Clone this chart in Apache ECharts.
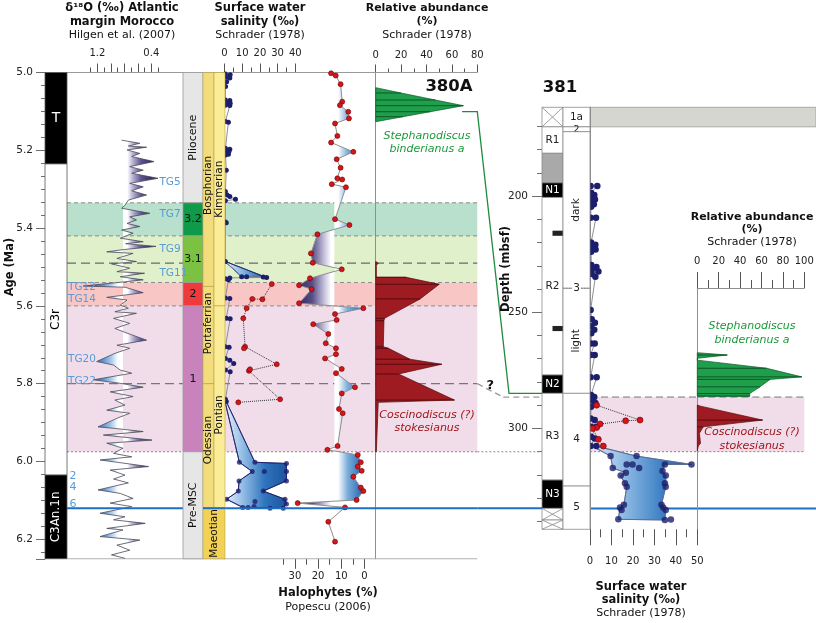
<!DOCTYPE html>
<html>
<head>
<meta charset="utf-8">
<title>380A / 381</title>
<script src="https://cdn.jsdelivr.net/npm/echarts@6.0.0/dist/echarts.min.js"></script>
<style>
html,body{margin:0;padding:0;background:#ffffff;}
#chart{width:816px;height:623px;}
</style>
</head>
<body>
<div id="chart"></div>
<script>
/* ============================ DATA ============================ */
// ---------- Site 380A (age, Ma) ----------
const ageExtent = [5.0, 6.25];
const ageTickLabels = [5.0, 5.2, 5.4, 5.6, 5.8, 6.0, 6.2];
const chronZones = [['T', 5.0, 5.235, 'N'], ['C3r', 5.235, 6.035, 'R'], ['C3An.1n', 6.035, 6.25, 'N']];
const mscStages = [['Pliocene', 5.0, 5.335], ['3.2', 5.335, 5.42], ['3.1', 5.42, 5.54], ['2', 5.54, 5.60], ['1', 5.60, 5.975], ['Pre-MSC', 5.975, 6.25]];
const paratethysA = [['Bosphorian', 5.0, 5.55, 5.29], ['Portaferrian', 5.55, 5.80, 5.645], ['Odessian', 5.80, 6.12, 5.945]];
const paratethysB = [['Kimmerian', 5.0, 5.60, 5.30], ['Pontian', 5.60, 6.12, 5.88]];
const paratethysBase = ['Maeotian', 6.12, 6.25];
const bandAges380 = [[5.335, 5.42], [5.42, 5.54], [5.54, 5.60], [5.60, 5.975]];
const levelAges380 = [5.335, 5.42, 5.49, 5.54, 5.60, 5.80, 5.975];
const blueLevelAge = 6.12;

// d18O (permil) – Hilgen et al. 2007  [age, value]
const d18TicksMajor = [1.2, 1.0, 0.8, 0.6, 0.4];
const d18TicksMinor = [1.3, 1.1, 0.9, 0.7, 0.5, 0.3];
const d18TickLabels = [1.2, 0.4];
const d18O = [
[5.174,0.84],[5.182,0.57],[5.189,0.74],[5.192,0.47],[5.199,0.76],[5.208,0.57],[5.216,0.69],[5.229,0.36],[5.242,0.72],[5.251,0.52],
[5.259,0.69],[5.272,0.30],[5.285,0.72],[5.294,0.52],[5.304,0.69],[5.315,0.47],[5.328,0.74],[5.341,0.79],[5.349,0.84],[5.362,0.42],
[5.371,0.72],[5.379,0.62],[5.388,0.76],[5.396,0.57],[5.405,0.84],[5.413,0.67],[5.426,0.86],[5.435,0.52],[5.440,0.78],[5.447,0.33],
[5.455,0.80],[5.461,1.06],[5.465,0.67],[5.478,0.91],[5.486,0.62],[5.492,0.99],[5.503,0.72],[5.512,0.91],[5.516,0.50],[5.525,0.86],
[5.533,0.52],[5.538,0.79],[5.549,1.41],[5.552,0.79],[5.566,0.52],[5.578,1.06],[5.585,0.76],[5.598,0.86],[5.606,0.74],[5.615,0.94],
[5.619,0.62],[5.632,0.96],[5.645,0.72],[5.658,0.94],[5.670,0.76],[5.688,0.47],[5.701,0.91],[5.709,0.72],[5.722,0.94],[5.743,1.21],
[5.752,0.96],[5.765,0.86],[5.773,0.69],[5.790,1.26],[5.799,0.86],[5.809,0.52],[5.821,1.01],[5.833,0.67],[5.842,0.94],[5.855,0.79],
[5.868,1.06],[5.876,0.72],[5.889,0.91],[5.911,1.19],[5.915,0.94],[5.923,0.52],[5.932,1.11],[5.945,0.39],[5.953,1.06],[5.966,0.82],
[5.979,0.96],[5.988,0.69],[5.996,1.16],[6.013,0.44],[6.022,1.01],[6.035,0.79],[6.045,0.96],[6.055,0.74],[6.063,0.94],[6.073,1.19],
[6.082,0.86],[6.095,0.67],[6.107,1.01],[6.116,0.69],[6.133,1.16],[6.142,0.79],[6.150,0.96],[6.159,0.49],[6.172,1.06],[6.176,0.82],
[6.193,1.16],[6.202,0.57],[6.215,0.91],[6.228,0.72],[6.240,0.99],[6.249,0.79]
];
const tgRight = [['TG5', 5.281], ['TG7', 5.364], ['TG9', 5.454], ['TG11', 5.516]];
const tgLeft = [['TG12', 5.553], ['TG14', 5.583], ['TG20', 5.737], ['TG22', 5.795]];
const tgNumbers = [['2', 6.037], ['4', 6.067], ['6', 6.110]];

// Surface-water salinity 380A (permil)  [age, value]
const salTicksMajor = [0, 10, 20, 30, 40];
const salTicksMinor = [5, 15, 25, 35];
const salTickLabels = [0, 10, 20, 30, 40];
const sal380Navy = [
[5.004,0.5],[5.006,3.2],[5.012,1.0],[5.014,3.0],[5.024,1.2],[5.036,0.6],[5.071,0.5],[5.072,3.0],[5.078,1.0],[5.079,3.2],
[5.084,0.5],[5.085,3.0],[5.126,0.5],[5.128,2.2],[5.195,0.5],[5.197,3.0],[5.199,1.2],[5.203,2.5],[5.206,0.5],[5.210,2.2],
[5.212,0.6],[5.251,1.0],[5.306,0.5],[5.315,1.5],[5.319,3.0],[5.326,6.2],[5.330,0.5],[5.384,0.5],[5.386,1.0],[5.486,0.5],
[5.525,9.7],[5.525,12.5],[5.526,21.9],[5.527,23.8],[5.528,3.0],[5.530,0.5],[5.533,2.2],[5.580,0.5],[5.581,3.0],[5.632,1.0],
[5.633,3.2],[5.705,0.5],[5.706,2.6],[5.735,0.5],[5.740,3.0],[5.748,5.2],[5.765,0.5],[5.769,3.2],[5.840,0.5],[5.846,1.0]
];
const sal380PreMSC = [
[6.002,8.4],[6.002,17.2],[6.005,35.0],[6.026,15.7],[6.026,22.5],[6.026,35.0],[6.050,8.2],[6.050,35.0],[6.076,7.8],[6.076,21.9],
[6.097,1.2],[6.097,34.2],[6.103,17.2],[6.109,35.0],[6.118,10.3],[6.118,13.3],[6.116,16.7],[6.120,25.7],[6.120,33.2]
];
const sal380WedgeMin = [[5.486,0.3],[5.525,9.7]];
const sal380WedgeMax = [[5.486,0.6],[5.527,23.8]];
const sal380Min = [[5.846,0.3],[6.002,8.4],[6.026,15.7],[6.050,8.2],[6.076,7.8],[6.097,1.2],[6.118,10.3]];
const sal380Max = [[5.846,1.0],[6.002,17.2],[6.005,35.0],[6.026,35.0],[6.050,35.0],[6.076,21.9],[6.097,34.2],[6.109,35.0],[6.120,33.2]];
const sal380Red = [[5.544,26.7],[5.583,21.4],[5.582,15.7],[5.606,12.5],[5.632,10.6],[5.705,11.6],[5.709,11.0],[5.750,29.5],[5.767,13.8],[5.763,14.4],[5.840,31.4],[5.848,7.8]];

// Halophytes (%) – Popescu 2006  [age, value]
const haloTicksMajor = [0, 10, 20, 30];
const haloTicksMinor = [5, 15, 25, 35];
const haloTickLabels = [0, 10, 20, 30];
const halo380 = [
[5.002,14.4],[5.008,12.4],[5.030,10.3],[5.075,9.6],[5.084,10.6],[5.101,7.0],[5.118,6.7],[5.131,12.7],[5.163,11.7],[5.180,14.4],
[5.204,4.8],[5.223,12.0],[5.245,10.3],[5.272,11.7],[5.275,9.6],[5.287,14.1],[5.295,8.0],[5.377,12.7],[5.392,6.5],[5.416,20.3],
[5.465,23.1],[5.489,22.3],[5.506,9.8],[5.529,23.5],[5.547,28.2],[5.557,22.8],[5.593,28.2],[5.606,0.5],[5.621,12.7],[5.636,12.0],
[5.647,22.1],[5.672,15.6],[5.696,16.7],[5.709,12.3],[5.724,12.3],[5.735,17.0],[5.762,9.8],[5.773,12.3],[5.809,4.1],[5.825,9.8],
[5.865,11.0],[5.876,9.4],[5.960,11.6],[5.970,16.0],[5.983,2.9],[6.002,1.6],[6.013,2.9],[6.024,1.2],[6.039,4.8],[6.067,1.6],
[6.076,0.5],[6.099,3.4],[6.107,28.8],[6.118,8.4],[6.155,15.6],[6.206,12.7]
];

// Relative abundance 380A (%)  [age, value]
const ab380TicksMajor = [0, 20, 40, 60, 80];
const ab380TicksMinor = [10, 30, 50, 70];
const ab380TickLabels = [0, 20, 40, 60, 80];
const stephA380 = [[5.039,0],[5.0527,20],[5.0707,47],[5.0853,69],[5.1008,43],[5.1136,21.5],[5.1265,0]];
const coscA380 = [[5.486,0],[5.490,2],[5.496,0.5],[5.5265,0.5],[5.5265,24],[5.5445,50],[5.582,35],[5.632,7],[5.638,6.5],[5.705,6],
[5.709,10],[5.737,27],[5.750,52],[5.775,18],[5.842,62],[5.848,2],[5.975,0.5],[5.975,0]];

// ---------- Site 381 (depth, mbsf) ----------
const depthExtent = [161.8, 343.4];
const depthTicksMajor = [200, 250, 300];
const depthTicksMinor = [170, 180, 190, 210, 220, 230, 240, 260, 270, 280, 290, 310, 320, 330, 340];
const depthTickLabels = [200, 250, 300];
const polarity381 = [['', 161.8, 170.2, 'X'], ['R1', 170.2, 181.6, 'R'], ['', 181.6, 194.3, 'gap'], ['N1', 194.3, 200.6, 'N'],
  ['R2', 200.6, 277.0, 'R'], ['N2', 277.0, 284.9, 'N'], ['R3', 284.9, 322.2, 'R'], ['N3', 322.2, 334.4, 'N'],
  ['', 334.4, 339.4, 'X'], ['', 339.4, 343.4, 'X']];
const polarityMarks381 = [216.0, 257.0];
const units381 = [['1a', 161.8, 170.2], ['2', 170.2, 172.3], ['dark', 172.3, 239.7], ['light', 239.7, 284.9], ['4', 284.9, 324.8], ['5', 324.8, 343.4]];
const unitBoundary381 = ['3', 239.7];
const band381 = [286.5, 310.0];
const blueLevelDepth = 334.4;

const sal381TicksMajor = [0, 10, 20, 30, 40, 50];
const sal381TicksMinor = [5, 15, 25, 35, 45];
const sal381TickLabels = [0, 10, 20, 30, 40, 50];
const sal381Navy = [
[195.7,0.3],[195.7,3.4],[198.6,0.5],[199.5,2.0],[200.5,0.5],[201.5,2.3],[202.5,0.8],[203.5,1.8],[204.6,0.5],[209.3,0.3],
[209.3,2.8],[220.0,0.5],[221.0,2.5],[222.0,0.8],[223.0,2.6],[224.0,0.5],[229.7,0.6],[230.5,3.0],[231.5,1.0],[232.5,3.9],
[233.5,0.8],[234.7,2.5],[249.0,0.3],[253.0,0.8],[254.5,2.3],[256.0,0.5],[257.5,2.0],[259.0,0.6],[263.4,0.5],[263.4,2.2],
[268.4,0.3],[268.4,2.2],[278.0,0.3],[278.0,3.1],[285.6,0.5],[286.5,2.0],[288.0,0.8],[289.0,2.5],[290.7,0.5],[295.7,0.3],
[296.4,2.2],[299.3,0.5],[299.3,3.0],[303.6,0.5],[304.3,2.2],[307.6,0.3],[307.6,3.0]
];
const sal381Lower = [
[311.9,9.6],[311.9,21.7],[315.5,17.1],[315.5,19.8],[315.5,34.9],[315.5,47.3],[317.0,10.6],[317.0,22.9],[318.3,33.8],[319.1,16.7],
[320.3,14.3],[320.3,35.3],[323.6,16.3],[323.6,34.9],[325.1,17.1],[325.1,35.3],[332.8,15.8],[332.8,33.3],[334.0,14.0],[335.1,14.7],
[334.0,34.1],[335.1,35.3],[339.1,13.2],[339.4,34.9],[339.2,37.7]
];
const sal381Min = [[307.6,1.0],[311.9,9.6],[317.0,10.6],[319.1,16.7],[320.3,14.3],[325.1,17.1],[332.8,15.8],[334.0,14.0],[339.1,13.2]];
const sal381Max = [[307.6,3.0],[311.9,21.7],[315.5,47.3],[315.5,34.9],[318.3,33.8],[320.3,35.3],[325.1,35.3],[332.8,33.3],[335.1,35.3],[339.4,34.9]];
const sal381Red = [[290.0,3.1],[296.4,23.3],[296.7,16.6],[298.1,4.7],[299.6,3.1],[300.0,1.2],[304.7,3.9],[307.6,6.2]];

const ab381TicksMajor = [0, 20, 40, 60, 80, 100];
const ab381TicksMinor = [10, 30, 50, 70, 90];
const ab381TickLabels = [0, 20, 40, 60, 80, 100];
const stephB381 = [[267.4,0],[268.4,28],[269.8,0],[270.6,0],[274.1,64.8],[277.8,97.6],[278.9,68],[282.1,58.6],[285.0,49],[286.1,49],[286.1,0]];
const coscB381 = [[289.9,0],[290.4,3],[296.4,61],[299.3,5.6],[302.1,2],[306.4,3],[307.5,1],[309.6,0]];

// correlation tie points (380A age <-> 381 depth)
const tieSteph = {age: 5.1008, value: 68, depth: 284.9};
const tieMSC = {age: 5.80, depth: 286.5};
const tieBase = {age: 5.975, depth: 310.0};

/* ============================ STYLE ============================ */
const FF = "'DejaVu Sans', Verdana, sans-serif";
const f = (size, weight, style) => (style || 'normal') + ' ' + (weight || 'normal') + ' ' + size + 'px ' + FF;
const C = {
  navy: '#1c1f6b', red: '#d4161b', redEdge: '#6b0000', gline: '#8c8c8c', axis: '#6e6e6e', tg: '#5b9bd5', blue: '#1f6fc6',
  band: ['#b8e0cd', '#dff0cb', '#f9c6c6', '#f0dde9'],
  stage: {'Pliocene': '#e6e6e6', '3.2': '#0e9a48', '3.1': '#7cc242', '2': '#ee3a3a', '1': '#c883bc', 'Pre-MSC': '#e6e6e6'},
  paraA: '#f2dc7c', paraB: '#fbec98', paraBase: '#f1d257', paraEdge: '#b9a548',
  green: '#1f9e4b', greenDark: '#0b5a27', greenText: '#1a9a3a', wine: '#9e1b22', wineDark: '#5a0a0e', wineText: '#a0161c',
  pol: {N: '#000000', R: '#ffffff', gap: '#a9a9a9', X: '#ffffff'}
};
const levelStyles = [
  {stroke: '#8a8a8a', lineWidth: 1, lineDash: [4, 3]}, {stroke: '#8a8a8a', lineWidth: 1, lineDash: [4, 3]},
  {stroke: '#6a6a6a', lineWidth: 1.2, lineDash: [9, 5]}, {stroke: '#8a8a8a', lineWidth: 1, lineDash: [4, 3]},
  {stroke: '#8a8a8a', lineWidth: 1, lineDash: [4, 3]}, {stroke: '#777', lineWidth: 1.2, lineDash: [9, 5]},
  {stroke: '#888', lineWidth: 1, lineDash: [2, 2]}
];
const d18Center = 0.82, haloCenter = 13;

/* ============================ BUILD ============================ */
const chart = echarts.init(document.getElementById('chart'), null, {width: 816, height: 623, renderer: 'canvas'});
const grids = [], xAxes = [], yAxes = [], series = [];
const G = {}, X = {}, Y = {}, S = {};
function addGrid(n, left, top, width, height) { grids.push({left, top, width, height, containLabel: false, outerBoundsMode: 'none'}); G[n] = grids.length - 1; }
function addAxis(list, reg, n, o) {
  list.push(Object.assign({type: 'value', splitLine: {show: false}, axisLine: {show: false}, axisTick: {show: false}, axisLabel: {show: false}, axisPointer: {show: false}}, o));
  reg[n] = list.length - 1;
}
const tick = (vals, len, color) => ({show: true, customValues: vals, length: len, lineStyle: {color: color || '#555', width: 1}});
const tlab = (vals, margin) => ({show: true, customValues: vals, fontSize: 10, fontFamily: FF, color: '#222', margin});
const line = (color, w) => ({show: true, lineStyle: {color, width: w || 1}});

// --- 380A grids (age axis)
const AT = 72.5, AH = 486.25;
addGrid('chron', 45, AT, 22, AH);
addGrid('d18', 67, AT, 116, AH);
addGrid('stage', 183, AT, 20, AH);
addGrid('para', 203, AT, 22, AH);
addGrid('sal', 224.5, AT, 151.2, AH);
addGrid('ab', 375.7, AT, 101.6, AH);
addGrid('bg', 67, AT, 410.3, AH);
// --- 381 grids (depth axis)
const DT = 107.3, DH = 422;
addGrid('c1', 542, DT, 21, DH);
addGrid('c2', 563, DT, 27, DH);
addGrid('s381', 590, DT, 107.3, DH);
addGrid('a381', 697.3, 288, 107, 241.3);
addGrid('bg381', 590, DT, 226, DH);

const ageY = (n, g, extra) => addAxis(yAxes, Y, n, Object.assign({gridIndex: G[g], inverse: true, min: ageExtent[0], max: ageExtent[1]}, extra || {}));
const depY = (n, g, extra) => addAxis(yAxes, Y, n, Object.assign({gridIndex: G[g], inverse: true, min: depthExtent[0], max: depthExtent[1]}, extra || {}));

ageY('chron', 'chron', {position: 'left', interval: 0.2, axisLine: line(C.axis), axisTick: {show: true, length: 9, lineStyle: {color: C.axis}},
  minorTick: {show: true, splitNumber: 6, length: 4, lineStyle: {color: C.axis}},
  axisLabel: {show: true, customValues: ageTickLabels, fontSize: 10.5, fontFamily: FF, color: '#222', margin: 12, formatter: v => Number(v).toFixed(1)}});
ageY('d18', 'd18');
ageY('stage', 'stage');
ageY('para', 'para');
ageY('sal', 'sal', {position: 'left', axisLine: line('#555')});
ageY('ab', 'ab', {position: 'left', axisLine: line('#8f8f8f')});
ageY('abR', 'ab', {position: 'right', axisLine: line('#8f8f8f')});
ageY('bg', 'bg');
depY('c1', 'c1', {position: 'left', axisLine: line(C.axis), axisTick: tick(depthTicksMajor, 10, C.axis), axisLabel: Object.assign(tlab(depthTickLabels, 14), {fontSize: 10.5})});
depY('c1m', 'c1', {position: 'left', axisTick: tick(depthTicksMinor, 5, C.axis)});
depY('c2', 'c2');
depY('s381', 's381', {position: 'left', axisLine: line('#555')});
depY('s381R', 's381', {position: 'right', axisLine: line('#8f8f8f')});
addAxis(yAxes, Y, 'a381', {gridIndex: G.a381, inverse: true, min: depthExtent[0] + (288 - DT) / (DH / (depthExtent[1] - depthExtent[0])), max: depthExtent[1], position: 'right', axisLine: line('#8f8f8f')});
depY('bg381', 'bg381');

const unitX = (n, g, max) => addAxis(xAxes, X, n, {gridIndex: G[g], min: 0, max: max || 1});
unitX('chron', 'chron'); unitX('stage', 'stage'); unitX('para', 'para', 2); unitX('bg', 'bg');
unitX('c1', 'c1'); unitX('c2', 'c2'); unitX('bg381', 'bg381');
addAxis(xAxes, X, 'd18', {gridIndex: G.d18, position: 'top', inverse: true, min: -0.07, max: 1.65, axisTick: tick(d18TicksMajor, 9), axisLabel: tlab(d18TickLabels, 14)});
addAxis(xAxes, X, 'd18m', {gridIndex: G.d18, position: 'top', inverse: true, min: -0.07, max: 1.65, axisTick: tick(d18TicksMinor, 5)});
addAxis(xAxes, X, 'sal', {gridIndex: G.sal, position: 'top', min: 0, max: 85.4, axisTick: tick(salTicksMajor, 9), axisLabel: tlab(salTickLabels, 14)});
addAxis(xAxes, X, 'salm', {gridIndex: G.sal, position: 'top', min: 0, max: 85.4, axisTick: tick(salTicksMinor, 5)});
addAxis(xAxes, X, 'halo', {gridIndex: G.sal, position: 'bottom', inverse: true, min: -4.83, max: 60.34, axisTick: tick(haloTicksMajor, 10), axisLabel: tlab(haloTickLabels, 13)});
addAxis(xAxes, X, 'halom', {gridIndex: G.sal, position: 'bottom', inverse: true, min: -4.83, max: 60.34, axisTick: tick(haloTicksMinor, 6)});
addAxis(xAxes, X, 'ab', {gridIndex: G.ab, position: 'top', min: 0, max: 80, axisTick: tick(ab380TicksMajor, 8), axisLabel: tlab(ab380TickLabels, 12)});
addAxis(xAxes, X, 'abm', {gridIndex: G.ab, position: 'top', min: 0, max: 80, axisTick: tick(ab380TicksMinor, 4)});
addAxis(xAxes, X, 's381', {gridIndex: G.s381, position: 'bottom', min: 0, max: 50, axisTick: tick(sal381TicksMajor, 16), axisLabel: tlab(sal381TickLabels, 27)});
addAxis(xAxes, X, 's381m', {gridIndex: G.s381, position: 'bottom', min: 0, max: 50, axisTick: tick(sal381TicksMinor, 8)});
addAxis(xAxes, X, 'a381', {gridIndex: G.a381, position: 'top', min: 0, max: 100, axisLine: line('#8f8f8f'), axisTick: tick(ab381TicksMajor, 16), axisLabel: tlab(ab381TickLabels, 22)});
addAxis(xAxes, X, 'a381m', {gridIndex: G.a381, position: 'top', min: 0, max: 100, axisTick: tick(ab381TicksMinor, 8)});

// ---------- drawing helpers (all through api.coord) ----------
function rect(api, x0, y0, x1, y1, style) { const a = api.coord([x0, y0]), b = api.coord([x1, y1]); return {type: 'rect', shape: {x: Math.min(a[0], b[0]), y: Math.min(a[1], b[1]), width: Math.abs(b[0] - a[0]), height: Math.abs(b[1] - a[1])}, style}; }
function seg(api, x0, y0, x1, y1, style) { const a = api.coord([x0, y0]), b = api.coord([x1, y1]); return {type: 'line', shape: {x1: a[0], y1: a[1], x2: b[0], y2: b[1]}, style}; }
function label(api, x, y, text, font, color, rot, extra) { const a = api.coord([x, y]); return {type: 'text', x: a[0], y: a[1], rotation: rot || 0, style: Object.assign({text, font, fill: color || '#000', align: 'center', verticalAlign: 'middle'}, extra || {})}; }
function poly(api, pts, style) { return {type: 'polygon', shape: {points: pts.map(p => api.coord(p))}, style}; }
function hGrad(api, stops, v0, v1, yRef) { const a = api.coord([v0, yRef])[0], b = api.coord([v1, yRef])[0]; return new echarts.graphic.LinearGradient(a, 0, b, 0, stops, true); }
const flip = arr => arr.map(d => [d[1], d[0]]);
const outline = (minB, maxB) => flip(minB).concat(flip(maxB).reverse());
function layer(name, xi, yi, z, anchor, draw) {
  S[name] = series.length;
  series.push({type: 'custom', name, xAxisIndex: xi, yAxisIndex: yi, z, silent: true, animation: false, clip: false, data: [anchor], renderItem: (p, api) => ({type: 'group', children: draw(api)})});
}
function addLine(name, o) { S[name] = series.length; series.push(Object.assign({type: 'line', silent: true, animation: false, symbol: 'circle'}, o)); }
const PI2 = Math.PI / 2;

// ---------- 380A background bands / levels ----------
layer('bands380', X.bg, Y.bg, 0, [0.5, 5.5], api => bandAges380.map((b, i) => rect(api, 0, b[0], 1, b[1], {fill: C.band[i]})));
layer('levels380', X.bg, Y.bg, 1, [0.5, 5.5], api => levelAges380.map((a, i) => seg(api, 0, a, 1, a, levelStyles[i]))
  .concat([seg(api, 0, ageExtent[0], 1, ageExtent[0], {stroke: '#9a9a9a', lineWidth: 1}), seg(api, 0, ageExtent[1], 1, ageExtent[1], {stroke: '#b0b0b0', lineWidth: 1})]));
layer('blue380', X.bg, Y.bg, 4.5, [0.5, 5.5], api => [seg(api, 0, blueLevelAge, 1, blueLevelAge, {stroke: C.blue, lineWidth: 2})]);

// ---------- columns ----------
layer('chronCol', X.chron, Y.chron, 5, [0.5, 5.5], api => chronZones.flatMap(([n, a, b, pol]) => [
  rect(api, 0, a, 1, b, {fill: C.pol[pol], stroke: '#555', lineWidth: 0.8}),
  label(api, 0.5, (a + b) / 2, n, f(n.length > 1 ? 12 : 14), pol === 'N' ? '#fff' : '#000', n.length > 1 ? PI2 : 0)
]));
layer('stageCol', X.stage, Y.stage, 5, [0.5, 5.5], api => mscStages.flatMap(([n, a, b]) => [
  rect(api, 0, a, 1, b, {fill: C.stage[n], stroke: '#9a9a9a', lineWidth: 0.8}),
  label(api, 0.5, (a + b) / 2, n, f(11), '#111', n.length > 3 ? PI2 : 0)
]));
layer('paraCol', X.para, Y.para, 5, [1, 5.5], api => {
  const out = [];
  paratethysA.forEach(([n, a, b, m]) => { out.push(rect(api, 0, a, 1, b, {fill: C.paraA, stroke: C.paraEdge, lineWidth: 0.6})); out.push(label(api, 0.5, m, n, f(10.5), '#111', PI2)); });
  paratethysB.forEach(([n, a, b, m]) => { out.push(rect(api, 1, a, 2, b, {fill: C.paraB, stroke: C.paraEdge, lineWidth: 0.6})); out.push(label(api, 1.5, m, n, f(10.5), '#111', PI2)); });
  const [n, a, b] = paratethysBase;
  out.push(rect(api, 0, a, 2, b, {fill: C.paraBase, stroke: C.paraEdge, lineWidth: 0.6}));
  out.push(seg(api, 0, a, 2, a, {stroke: C.blue, lineWidth: 2}));
  out.push(label(api, 1, (a + b) / 2, n, f(10.5), '#111', PI2));
  return out;
});

// ---------- d18O ----------
const d18Stops = [{offset: 0, color: '#173f86'}, {offset: 0.2, color: '#2460aa'}, {offset: 0.3, color: '#4f8ccc'}, {offset: 0.38, color: '#a9c9ea'},
  {offset: 0.44, color: '#ffffff'}, {offset: 0.52, color: '#ffffff'}, {offset: 0.57, color: '#b4aed0'}, {offset: 0.64, color: '#5d5290'},
  {offset: 0.72, color: '#3b3169'}, {offset: 1, color: '#251e4c'}];
layer('d18Fill', X.d18, Y.d18, 2, [0.8, 5.5], api => {
  const pts = [[d18Center, d18O[0][0]]].concat(flip(d18O), [[d18Center, d18O[d18O.length - 1][0]]]);
  return [poly(api, pts, {fill: hGrad(api, d18Stops, 1.65, -0.07, 5.5)})];
});
addLine('d18Line', {xAxisIndex: X.d18, yAxisIndex: Y.d18, data: flip(d18O), symbol: 'none', lineStyle: {color: '#4a4a5a', width: 0.8}, z: 3});
layer('tgLabels', X.d18, Y.d18, 6, [0.8, 5.5], api => [].concat(
  tgRight.map(([t, a]) => label(api, 0.28, a, t, f(10.5), C.tg, 0, {align: 'left'})),
  tgLeft.map(([t, a]) => label(api, 1.635, a, t, f(10.5), C.tg, 0, {align: 'left'})),
  tgNumbers.map(([t, a]) => label(api, 1.56, a, t, f(11), C.tg))
));

// ---------- 380A salinity & halophytes ----------
const salStops = [{offset: 0, color: '#eaf2fb'}, {offset: 0.3, color: '#92bce5'}, {offset: 0.65, color: '#2f74bd'}, {offset: 1, color: '#1c559e'}];
layer('salPoly380', X.sal, Y.sal, 2, [1, 5.5], api => [
  poly(api, outline(sal380WedgeMin, sal380WedgeMax), {fill: hGrad(api, salStops, 0, 30, 5.5), stroke: C.navy, lineWidth: 0.8}),
  poly(api, outline(sal380Min, sal380Max), {fill: hGrad(api, salStops, 0, 35, 5.5), stroke: C.navy, lineWidth: 0.8})
]);
const haloStops = [{offset: 0, color: '#2c2554'}, {offset: 0.25, color: '#574e86'}, {offset: 0.42, color: '#c4c0da'}, {offset: 0.52, color: '#ffffff'}, {offset: 0.62, color: '#ffffff'},
  {offset: 0.76, color: '#7aaddb'}, {offset: 1, color: '#1a5ca8'}];
layer('haloFill', X.halo, Y.sal, 2, [10, 5.5], api => {
  const pts = [[haloCenter, halo380[0][0]]].concat(flip(halo380), [[haloCenter, halo380[halo380.length - 1][0]]]);
  return [poly(api, pts, {fill: hGrad(api, haloStops, 30, 0, 5.5)})];
});
addLine('haloLine', {xAxisIndex: X.halo, yAxisIndex: Y.sal, data: flip(halo380), symbolSize: 5, itemStyle: {color: C.red, borderColor: C.redEdge, borderWidth: 0.6}, lineStyle: {color: '#8f8f8f', width: 1}, z: 4});
addLine('salLine380', {xAxisIndex: X.sal, yAxisIndex: Y.sal, data: flip(sal380Navy), symbolSize: 5, itemStyle: {color: C.navy}, lineStyle: {color: '#8f8f8f', width: 1}, z: 4});
S.salPre380 = series.length;
series.push({type: 'scatter', xAxisIndex: X.sal, yAxisIndex: Y.sal, data: flip(sal380PreMSC), symbolSize: 5, itemStyle: {color: C.navy}, z: 4, silent: true, animation: false});
addLine('salRed380', {xAxisIndex: X.sal, yAxisIndex: Y.sal, data: flip(sal380Red), symbolSize: 5, itemStyle: {color: C.red, borderColor: C.redEdge, borderWidth: 0.6}, lineStyle: {color: '#333', width: 1, type: 'dotted'}, z: 4});

// ---------- 380A relative abundance ----------
function abundance(api, data, fill, dark) {
  const out = [poly(api, flip(data), {fill, stroke: dark, lineWidth: 0.7})];
  data.forEach(d => { if (d[1] > 3) out.push(seg(api, 0, d[0], d[1], d[0], {stroke: dark, lineWidth: 1})); });
  return out;
}
layer('ab380', X.ab, Y.ab, 3, [10, 5.5], api => abundance(api, stephA380, C.green, C.greenDark).concat(abundance(api, coscA380, C.wine, C.wineDark)));

// ---------- 381 background ----------
layer('bg381', X.bg381, Y.bg381, 0, [0.5, 250], api => [
  rect(api, 0, units381[0][1], 1, units381[0][2], {fill: '#d6d6d1', stroke: '#9a9a9a', lineWidth: 0.8}),
  seg(api, 0, blueLevelDepth, 1, blueLevelDepth, {stroke: C.blue, lineWidth: 2})
]);
function band381Draw(api, xmax) {
  return [rect(api, 0, band381[0], xmax, band381[1], {fill: C.band[3]}),
    seg(api, 0, band381[0], xmax, band381[0], {stroke: '#aaaaaa', lineWidth: 1.6, lineDash: [7, 4]}),
    seg(api, 0, band381[1], xmax, band381[1], {stroke: '#888', lineWidth: 1, lineDash: [2, 2]})];
}
layer('band381s', X.s381, Y.s381, 0, [10, 250], api => band381Draw(api, 50));
layer('band381a', X.a381, Y.a381, 0, [10, 300], api => band381Draw(api, 100));

// ---------- 381 columns ----------
layer('col1', X.c1, Y.c1, 5, [0.5, 250], api => {
  const out = [];
  polarity381.forEach(([n, a, b, k]) => {
    out.push(rect(api, 0, a, 1, b, {fill: C.pol[k], stroke: '#8a8a8a', lineWidth: 0.8}));
    if (k === 'X') { out.push(seg(api, 0, a, 1, b, {stroke: '#888', lineWidth: 0.8})); out.push(seg(api, 0, b, 1, a, {stroke: '#888', lineWidth: 0.8})); }
    if (n) out.push(label(api, 0.5, (a + b) / 2, n, f(10.5), k === 'N' ? '#fff' : '#222'));
  });
  polarityMarks381.forEach(d => out.push(rect(api, 0.5, d - 1.1, 1, d + 1.1, {fill: '#222'})));
  return out;
});
layer('col2', X.c2, Y.c2, 5, [0.5, 250], api => {
  const out = [];
  units381.forEach(([n, a, b]) => {
    out.push(rect(api, 0, a, 1, b, {fill: '#fff', stroke: '#8a8a8a', lineWidth: 0.8}));
    const long = n.length > 2;
    out.push(label(api, 0.5, (a + b) / 2, n, f(n === '2' ? 9.5 : 10.5), '#222', long ? PI2 : 0));
  });
  out.push(seg(api, 0, unitBoundary381[1], 1, unitBoundary381[1], {fill: '#fff', stroke: '#888', lineWidth: 1, lineDash: [1.5, 1.5]}));
  out.push(label(api, 0.5, unitBoundary381[1], unitBoundary381[0], f(10.5), '#222', 0, {backgroundColor: '#fff', padding: [0, 1]}));
  return out;
});

// ---------- 381 salinity ----------
const sal381Stops = [{offset: 0, color: '#dce9f6'}, {offset: 0.35, color: '#8fbbe4'}, {offset: 0.75, color: '#3c7fc4'}, {offset: 1, color: '#2461a8'}];
layer('salPoly381', X.s381, Y.s381, 2, [10, 250], api => [poly(api, outline(sal381Min, sal381Max), {fill: hGrad(api, sal381Stops, 0, 45, 250), stroke: '#5a6a90', lineWidth: 0.8})]);
addLine('salLine381', {xAxisIndex: X.s381, yAxisIndex: Y.s381, data: flip(sal381Navy), symbolSize: 6.5, itemStyle: {color: C.navy}, lineStyle: {color: '#8f8f8f', width: 1}, z: 4});
S.salLow381 = series.length;
series.push({type: 'scatter', xAxisIndex: X.s381, yAxisIndex: Y.s381, data: flip(sal381Lower), symbolSize: 6.5, itemStyle: {color: C.navy}, z: 4, silent: true, animation: false});
addLine('salRed381', {xAxisIndex: X.s381, yAxisIndex: Y.s381, data: flip(sal381Red), symbolSize: 6, itemStyle: {color: C.red, borderColor: C.redEdge, borderWidth: 0.6}, lineStyle: {color: '#333', width: 1, type: 'dotted'}, z: 4});

// ---------- 381 relative abundance ----------
layer('ab381', X.a381, Y.a381, 3, [10, 300], api => abundance(api, stephB381, C.green, C.greenDark).concat(abundance(api, coscB381, C.wine, C.wineDark)));

chart.setOption({animation: false, backgroundColor: '#ffffff', grid: grids, xAxis: xAxes, yAxis: yAxes, series});

/* ============ annotations: titles + cross-panel correlation lines ============ */
const px = (sname, x, y) => chart.convertToPixel({seriesIndex: S[sname]}, [x, y]);
const txt = (text, x, y, font, color, rot, extra) => ({type: 'text', x, y, rotation: rot || 0, z: 100, silent: true, style: Object.assign({text, font, fill: color || '#111', align: 'center', verticalAlign: 'middle'}, extra || {})});
const pl = (points, style, z) => ({type: 'polyline', z: z || 50, silent: true, shape: {points}, style: Object.assign({fill: null}, style)});

const gfx = [
  txt('δ¹⁸O (‰) Atlantic', 122, 8, f(11.5, 'bold')), txt('margin Morocco', 122, 22, f(11.5, 'bold')), txt('Hilgen et al. (2007)', 122, 35, f(11)),
  txt('Surface water', 260, 8, f(11.5, 'bold')), txt('salinity (‰)', 260, 22, f(11.5, 'bold')), txt('Schrader (1978)', 260, 35, f(11)),
  txt('Relative abundance', 427, 8, f(11, 'bold')), txt('(%)', 427, 21, f(11, 'bold')), txt('Schrader (1978)', 427, 35, f(11)),
  txt('380A', 449, 87, f(16.5, 'bold')), txt('381', 560, 88, f(16.5, 'bold')),
  txt('Relative abundance', 752, 217, f(11, 'bold')), txt('(%)', 752, 229, f(11, 'bold')), txt('Schrader (1978)', 752, 242, f(11)),
  txt('Halophytes (%)', 328, 593, f(11.5, 'bold')), txt('Popescu (2006)', 328, 607, f(11)),
  txt('Surface water', 641, 587, f(11.5, 'bold')), txt('salinity (‰)', 641, 600, f(11.5, 'bold')), txt('Schrader (1978)', 641, 613, f(11)),
  txt('Age (Ma)', 10, 267, f(11.5, 'bold'), '#111', PI2), txt('Depth (mbsf)', 506, 269, f(11.5, 'bold'), '#111', PI2),
  txt('Stephanodiscus', 427, 136, f(11, 'normal', 'italic'), C.greenText), txt('binderianus a', 427, 149, f(11, 'normal', 'italic'), C.greenText),
  txt('Coscinodiscus (?)', 427, 415, f(11, 'normal', 'italic'), C.wineText), txt('stokesianus', 427, 428, f(11, 'normal', 'italic'), C.wineText),
  txt('Stephanodiscus', 752, 326, f(11, 'normal', 'italic'), C.greenText), txt('binderianus a', 752, 340, f(11, 'normal', 'italic'), C.greenText),
  txt('Coscinodiscus (?)', 752, 432, f(11, 'normal', 'italic'), C.wineText), txt('stokesianus', 752, 446, f(11, 'normal', 'italic'), C.wineText)
];
// green correlation (Stephanodiscus acme)
const g0 = px('ab380', tieSteph.value, tieSteph.age), g1 = px('ab380', 80, tieSteph.age), g3 = px('col1', 0, tieSteph.depth);
gfx.push(pl([g0, g1, [g3[0] - 33, g3[1]], g3], {stroke: '#1f8a40', lineWidth: 1.3}));
// dashed correlation with "?"
const q0 = px('ab380', 80, tieMSC.age), q2 = px('band381s', 0, tieMSC.depth), q1 = [q0[0] + 26, q2[1]];
gfx.push(pl([q0, q1], {stroke: '#9a9a9a', lineWidth: 1.4, lineDash: [6, 4]}));
gfx.push(pl([q1, [g3[0], q2[1]]], {stroke: '#9a9a9a', lineWidth: 1.4, lineDash: [6, 4]}));
gfx.push(txt('?', (q0[0] + q1[0]) / 2, (q0[1] + q1[1]) / 2 - 5, f(13, 'bold'), '#111'));
// base of Messinian band (dotted) and blue level in gap between panels
const b0 = px('ab380', 80, tieBase.age), b1 = px('col1', 0, tieBase.depth);
gfx.push(pl([b0, [b1[0], b0[1]]], {stroke: '#888', lineWidth: 1, lineDash: [2, 2]}));
const u0 = px('ab380', 80, blueLevelAge), u1 = px('col1', 0, blueLevelDepth);
gfx.push(pl([u0, [u1[0], u0[1]]], {stroke: C.blue, lineWidth: 2}));
chart.setOption({graphic: gfx});
</script>
</body>
</html>
